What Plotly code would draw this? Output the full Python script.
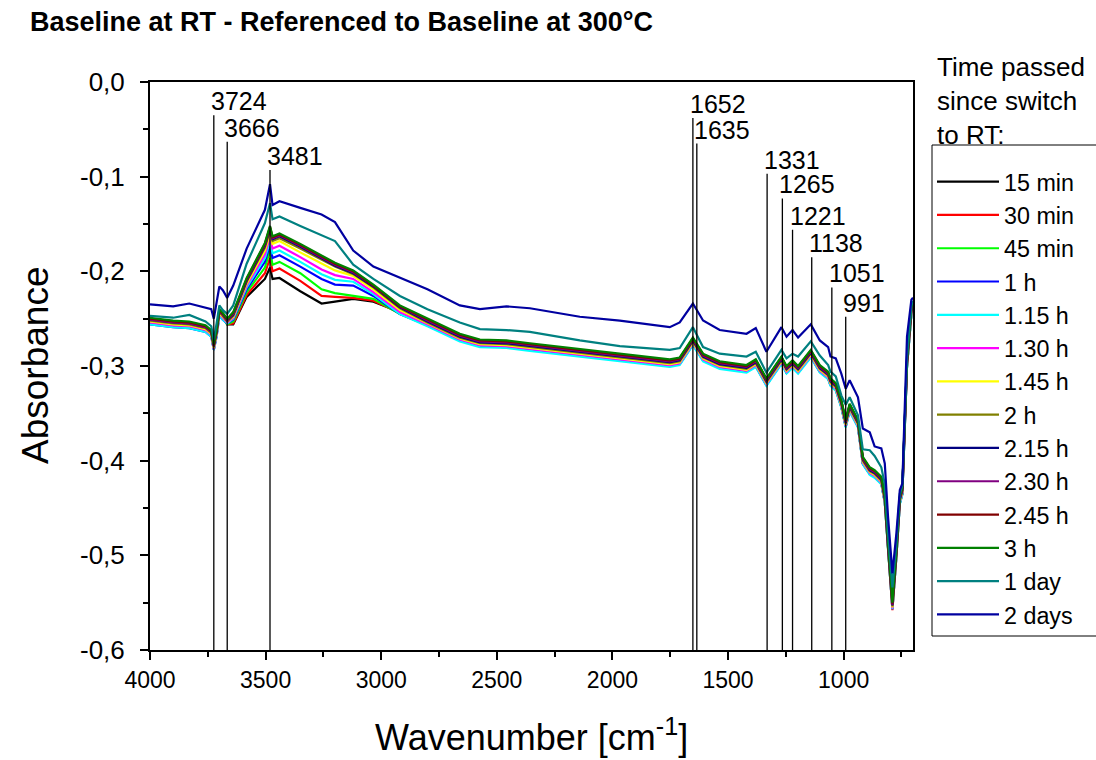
import plotly.graph_objects as go

# ---------------- data ----------------
wavenumber = [4000, 3900, 3830, 3760, 3735, 3724, 3712, 3700, 3685, 3666,
              3640, 3582, 3503, 3481, 3470, 3440, 3350, 3258, 3200, 3121,
              3034, 2919, 2800, 2660, 2573, 2458, 2357, 2141, 1968, 1752,
              1709, 1652, 1608, 1536, 1420, 1380, 1334, 1269, 1247, 1221,
              1197, 1142, 1103, 1067, 1057, 1034, 1010, 991, 974, 938,
              917, 887, 866, 837, 822, 808, 789, 772, 757, 746,
              726, 707, 700]

series_names = ["15 min", "30 min", "45 min", "1 h", "1.15 h", "1.30 h", "1.45 h",
                "2 h", "2.15 h", "2.30 h", "2.45 h", "3 h", "1 day", "2 days"]

series_colors = ["#000000", "#FF0000", "#00FF00", "#0000FF", "#00FFFF", "#FF00FF", "#FFFF00",
                 "#808000", "#000080", "#800080", "#800000", "#008000", "#008080", "#0000A0"]

abs_15min = [-0.252, -0.255, -0.256, -0.260, -0.265, -0.281, -0.265, -0.243, -0.247, -0.256,
             -0.256, -0.227, -0.208, -0.196, -0.208, -0.207, -0.221, -0.234, -0.232, -0.229,
             -0.232, -0.243, -0.251, -0.267, -0.273, -0.274, -0.277, -0.283, -0.288, -0.294,
             -0.292, -0.271, -0.288, -0.296, -0.300, -0.294, -0.314, -0.291, -0.301, -0.295,
             -0.301, -0.284, -0.300, -0.307, -0.314, -0.319, -0.337, -0.358, -0.341, -0.358,
             -0.397, -0.408, -0.411, -0.418, -0.438, -0.488, -0.551, -0.496, -0.439, -0.429,
             -0.295, -0.239, -0.233]
abs_30min = [-0.254, -0.257, -0.258, -0.262, -0.267, -0.282, -0.267, -0.245, -0.249, -0.256,
             -0.255, -0.225, -0.202, -0.186, -0.200, -0.197, -0.210, -0.226, -0.227, -0.228,
             -0.231, -0.244, -0.257, -0.273, -0.279, -0.280, -0.283, -0.289, -0.294, -0.300,
             -0.298, -0.277, -0.294, -0.302, -0.306, -0.300, -0.320, -0.297, -0.307, -0.301,
             -0.307, -0.290, -0.306, -0.313, -0.320, -0.325, -0.343, -0.364, -0.347, -0.364,
             -0.403, -0.414, -0.417, -0.424, -0.444, -0.494, -0.558, -0.502, -0.445, -0.435,
             -0.301, -0.245, -0.239]
abs_45min = [-0.254, -0.257, -0.258, -0.262, -0.267, -0.282, -0.267, -0.245, -0.249, -0.256,
             -0.253, -0.222, -0.196, -0.178, -0.193, -0.190, -0.202, -0.219, -0.223, -0.226,
             -0.229, -0.245, -0.257, -0.273, -0.279, -0.280, -0.283, -0.289, -0.294, -0.300,
             -0.298, -0.277, -0.294, -0.302, -0.306, -0.300, -0.320, -0.297, -0.307, -0.301,
             -0.307, -0.290, -0.306, -0.313, -0.320, -0.325, -0.343, -0.364, -0.347, -0.364,
             -0.403, -0.414, -0.417, -0.424, -0.444, -0.494, -0.556, -0.502, -0.445, -0.435,
             -0.301, -0.245, -0.239]
abs_1h = [-0.256, -0.259, -0.260, -0.264, -0.269, -0.283, -0.269, -0.247, -0.251, -0.255,
          -0.251, -0.219, -0.190, -0.172, -0.186, -0.183, -0.195, -0.208, -0.214, -0.215,
          -0.226, -0.245, -0.257, -0.273, -0.279, -0.280, -0.283, -0.289, -0.294, -0.300,
          -0.298, -0.277, -0.294, -0.302, -0.306, -0.300, -0.320, -0.297, -0.307, -0.301,
          -0.307, -0.290, -0.306, -0.313, -0.320, -0.325, -0.343, -0.364, -0.347, -0.364,
          -0.403, -0.414, -0.417, -0.424, -0.444, -0.494, -0.557, -0.502, -0.445, -0.435,
          -0.301, -0.245, -0.239]
abs_1h15 = [-0.256, -0.259, -0.260, -0.264, -0.269, -0.283, -0.269, -0.247, -0.251, -0.255,
            -0.250, -0.217, -0.186, -0.168, -0.181, -0.178, -0.190, -0.203, -0.209, -0.211,
            -0.224, -0.245, -0.258, -0.274, -0.280, -0.281, -0.284, -0.290, -0.295, -0.301,
            -0.299, -0.278, -0.295, -0.303, -0.307, -0.301, -0.321, -0.298, -0.308, -0.302,
            -0.308, -0.291, -0.307, -0.314, -0.321, -0.326, -0.344, -0.365, -0.348, -0.365,
            -0.404, -0.415, -0.418, -0.425, -0.445, -0.495, -0.557, -0.503, -0.446, -0.436,
            -0.302, -0.246, -0.240]
abs_1h30 = [-0.254, -0.257, -0.258, -0.262, -0.267, -0.282, -0.267, -0.245, -0.249, -0.254,
            -0.249, -0.215, -0.182, -0.164, -0.176, -0.173, -0.185, -0.198, -0.204, -0.208,
            -0.222, -0.243, -0.256, -0.272, -0.278, -0.279, -0.282, -0.288, -0.293, -0.299,
            -0.297, -0.276, -0.293, -0.301, -0.305, -0.299, -0.319, -0.296, -0.306, -0.300,
            -0.306, -0.289, -0.305, -0.312, -0.319, -0.324, -0.342, -0.363, -0.346, -0.363,
            -0.402, -0.413, -0.416, -0.423, -0.443, -0.493, -0.556, -0.501, -0.444, -0.434,
            -0.300, -0.244, -0.238]
abs_1h45 = [-0.253, -0.256, -0.257, -0.261, -0.266, -0.281, -0.266, -0.244, -0.248, -0.253,
            -0.248, -0.213, -0.178, -0.160, -0.171, -0.168, -0.180, -0.192, -0.199, -0.205,
            -0.219, -0.241, -0.255, -0.271, -0.277, -0.278, -0.281, -0.287, -0.292, -0.298,
            -0.296, -0.275, -0.292, -0.300, -0.304, -0.298, -0.318, -0.295, -0.305, -0.299,
            -0.305, -0.288, -0.304, -0.311, -0.318, -0.323, -0.341, -0.362, -0.345, -0.362,
            -0.401, -0.412, -0.415, -0.422, -0.442, -0.492, -0.555, -0.500, -0.443, -0.433,
            -0.299, -0.243, -0.237]
abs_2h = [-0.252, -0.255, -0.256, -0.260, -0.265, -0.280, -0.265, -0.243, -0.247, -0.253,
          -0.247, -0.211, -0.175, -0.157, -0.168, -0.165, -0.176, -0.188, -0.195, -0.203,
          -0.217, -0.239, -0.254, -0.270, -0.276, -0.277, -0.280, -0.286, -0.291, -0.297,
          -0.295, -0.274, -0.291, -0.299, -0.303, -0.297, -0.317, -0.294, -0.304, -0.298,
          -0.304, -0.287, -0.303, -0.310, -0.317, -0.322, -0.340, -0.361, -0.344, -0.361,
          -0.400, -0.411, -0.414, -0.421, -0.441, -0.491, -0.554, -0.499, -0.442, -0.432,
          -0.298, -0.242, -0.236]
abs_2h15 = [-0.251, -0.254, -0.255, -0.259, -0.264, -0.279, -0.264, -0.242, -0.246, -0.252,
            -0.246, -0.210, -0.173, -0.155, -0.166, -0.163, -0.174, -0.186, -0.194, -0.202,
            -0.216, -0.238, -0.253, -0.269, -0.275, -0.276, -0.279, -0.285, -0.290, -0.296,
            -0.294, -0.273, -0.290, -0.298, -0.302, -0.296, -0.316, -0.293, -0.303, -0.297,
            -0.303, -0.286, -0.302, -0.309, -0.316, -0.321, -0.339, -0.360, -0.343, -0.360,
            -0.399, -0.410, -0.413, -0.420, -0.440, -0.490, -0.553, -0.498, -0.441, -0.431,
            -0.297, -0.241, -0.235]
abs_2h30 = [-0.251, -0.254, -0.255, -0.259, -0.264, -0.279, -0.264, -0.242, -0.246, -0.252,
            -0.245, -0.209, -0.172, -0.154, -0.165, -0.162, -0.173, -0.185, -0.193, -0.201,
            -0.215, -0.237, -0.252, -0.268, -0.274, -0.275, -0.278, -0.284, -0.289, -0.295,
            -0.293, -0.272, -0.289, -0.297, -0.301, -0.295, -0.315, -0.292, -0.302, -0.296,
            -0.302, -0.285, -0.301, -0.308, -0.315, -0.320, -0.338, -0.359, -0.342, -0.359,
            -0.398, -0.409, -0.412, -0.419, -0.439, -0.489, -0.552, -0.497, -0.440, -0.430,
            -0.296, -0.240, -0.234]
abs_2h45 = [-0.250, -0.253, -0.254, -0.258, -0.263, -0.278, -0.263, -0.241, -0.245, -0.251,
            -0.244, -0.208, -0.171, -0.153, -0.164, -0.161, -0.172, -0.184, -0.192, -0.200,
            -0.215, -0.237, -0.251, -0.267, -0.273, -0.274, -0.277, -0.283, -0.288, -0.294,
            -0.292, -0.271, -0.288, -0.296, -0.300, -0.294, -0.314, -0.291, -0.301, -0.295,
            -0.301, -0.284, -0.300, -0.307, -0.314, -0.319, -0.337, -0.358, -0.341, -0.358,
            -0.397, -0.408, -0.411, -0.418, -0.438, -0.488, -0.551, -0.496, -0.439, -0.429,
            -0.295, -0.239, -0.233]
abs_3h = [-0.249, -0.252, -0.253, -0.257, -0.262, -0.277, -0.262, -0.240, -0.244, -0.250,
          -0.243, -0.207, -0.170, -0.152, -0.163, -0.160, -0.171, -0.183, -0.191, -0.199,
          -0.214, -0.236, -0.250, -0.266, -0.272, -0.273, -0.276, -0.282, -0.287, -0.293,
          -0.291, -0.270, -0.287, -0.295, -0.299, -0.293, -0.313, -0.290, -0.300, -0.294,
          -0.300, -0.283, -0.299, -0.306, -0.313, -0.318, -0.336, -0.357, -0.340, -0.357,
          -0.396, -0.407, -0.410, -0.417, -0.437, -0.487, -0.550, -0.495, -0.438, -0.428,
          -0.294, -0.238, -0.232]
abs_1day = [-0.247, -0.249, -0.246, -0.253, -0.258, -0.272, -0.255, -0.236, -0.241, -0.245,
            -0.236, -0.192, -0.149, -0.128, -0.145, -0.142, -0.152, -0.162, -0.168, -0.193,
            -0.208, -0.226, -0.240, -0.254, -0.261, -0.262, -0.264, -0.273, -0.279, -0.283,
            -0.281, -0.259, -0.280, -0.287, -0.290, -0.285, -0.307, -0.283, -0.292, -0.287,
            -0.290, -0.274, -0.289, -0.299, -0.306, -0.311, -0.331, -0.341, -0.333, -0.352,
            -0.388, -0.389, -0.395, -0.407, -0.425, -0.477, -0.534, -0.487, -0.435, -0.426,
            -0.290, -0.236, -0.231]
abs_2days = [-0.235, -0.237, -0.234, -0.238, -0.240, -0.250, -0.232, -0.216, -0.220, -0.228,
             -0.215, -0.176, -0.135, -0.108, -0.130, -0.126, -0.133, -0.140, -0.148, -0.178,
             -0.195, -0.207, -0.219, -0.236, -0.240, -0.237, -0.239, -0.248, -0.252, -0.259,
             -0.254, -0.234, -0.252, -0.262, -0.266, -0.260, -0.285, -0.259, -0.269, -0.262,
             -0.270, -0.256, -0.273, -0.280, -0.290, -0.292, -0.308, -0.324, -0.315, -0.333,
             -0.366, -0.370, -0.385, -0.387, -0.403, -0.459, -0.519, -0.477, -0.431, -0.424,
             -0.269, -0.230, -0.228]

series_values = [abs_15min, abs_30min, abs_45min, abs_1h, abs_1h15, abs_1h30, abs_1h45,
                 abs_2h, abs_2h15, abs_2h30, abs_2h45, abs_3h, abs_1day, abs_2days]

# peak markers: position and top of the drop line
peak_positions = [3724, 3666, 3481, 1652, 1635, 1331, 1265, 1221, 1138, 1051, 991]
peak_line_tops = [-0.035, -0.063, -0.093, -0.038, -0.065, -0.097, -0.123, -0.156, -0.185, -0.217, -0.248]
peak_labels = ["3724", "3666", "3481", "1652", "1635", "1331", "1265", "1221", "1138", "1051", "991"]

x_tick_values = [4000, 3500, 3000, 2500, 2000, 1500, 1000]
x_tick_labels = ["4000", "3500", "3000", "2500", "2000", "1500", "1000"]
x_minor_values = [3750, 3250, 2750, 2250, 1750, 1250, 750]
y_tick_values = [0.0, -0.1, -0.2, -0.3, -0.4, -0.5, -0.6]
y_tick_labels = ["0,0", "-0,1", "-0,2", "-0,3", "-0,4", "-0,5", "-0,6"]
y_minor_values = [-0.05, -0.15, -0.25, -0.35, -0.45, -0.55]

# ---------------- figure ----------------
FONT = "Liberation Sans, Arial, sans-serif"
fig = go.Figure()

for i, (name, vals, col) in enumerate(zip(series_names, series_values, series_colors)):
    fig.add_trace(go.Scatter(
        x=wavenumber, y=vals, mode="lines", name=name,
        line=dict(color=col, width=2.2),
    ))

for xp, yt, lab in zip(peak_positions, peak_line_tops, peak_labels):
    fig.add_shape(type="line", xref="x", yref="y", x0=xp, x1=xp, y0=-0.6, y1=yt,
                  line=dict(color="black", width=1.3), layer="above")
    fig.add_annotation(x=xp, y=yt, xref="x", yref="y", text=lab, showarrow=False,
                       xanchor="left", yanchor="bottom", xshift=-5, yshift=-2,
                       font=dict(family=FONT, size=25, color="black"))

axis_common = dict(showline=True, linecolor="black", linewidth=2, mirror=True,
                   ticks="outside", ticklen=8, tickwidth=2, tickcolor="black",
                   showgrid=False, zeroline=False)

fig.update_xaxes(range=[4000, 700], autorange=False,
                 tickmode="array", tickvals=x_tick_values, ticktext=x_tick_labels,
                 tickfont=dict(family=FONT, size=23, color="black"),
                 minor=dict(tickmode="array", tickvals=x_minor_values, ticks="outside",
                            ticklen=5, tickwidth=2, tickcolor="black", showgrid=False),
                 **axis_common)
fig.update_yaxes(range=[-0.6, 0.0], autorange=False,
                 tickmode="array", tickvals=y_tick_values, ticktext=y_tick_labels,
                 tickfont=dict(family=FONT, size=26, color="black"),
                 ticklabelstandoff=10,
                 minor=dict(tickmode="array", tickvals=y_minor_values, ticks="outside",
                            ticklen=5, tickwidth=2, tickcolor="black", showgrid=False),
                 **axis_common)

# axis titles
fig.add_annotation(xref="paper", yref="paper", x=(35 - 150) / 763, y=0.5,
                   text="Absorbance", textangle=-90, showarrow=False,
                   xanchor="center", yanchor="middle",
                   font=dict(family=FONT, size=37, color="black"))
fig.add_annotation(xref="paper", yref="paper", x=0.5, y=(650 - 735) / 568,
                   text="Wavenumber [cm<sup>-1</sup>]", showarrow=False,
                   xanchor="center", yanchor="middle",
                   font=dict(family=FONT, size=36, color="black"))
# legend heading
fig.add_annotation(xref="paper", yref="paper", x=(935 - 150) / 763, y=(650 - 50) / 568,
                   text="Time passed<br>since switch<br>to RT:", showarrow=False,
                   xanchor="left", yanchor="top", align="left",
                   font=dict(family=FONT, size=26, color="black"))
# legend frame (open on the right, as in the reference)
fig.add_shape(type="rect", xref="paper", yref="paper",
              x0=(932 - 150) / 763, x1=(1110 - 150) / 763,
              y0=(650 - 636) / 568, y1=(650 - 145) / 568,
              line=dict(color="black", width=1), fillcolor="rgba(0,0,0,0)", layer="above")

fig.update_layout(
    width=1096, height=760,
    margin=dict(l=150, r=183, t=82, b=110, autoexpand=False),
    paper_bgcolor="white", plot_bgcolor="white",
    title=dict(text="<b>Baseline at RT - Referenced to Baseline at 300°C</b>",
               xref="container", yref="container", x=30 / 1096, y=1 - 22 / 760,
               xanchor="left", yanchor="middle",
               font=dict(family=FONT, size=27, color="black")),
    showlegend=True,
    legend=dict(x=(932 - 150) / 763, y=(650 - 160) / 568, xanchor="left", yanchor="top",
                borderwidth=0, bgcolor="rgba(0,0,0,0)",
                font=dict(family=FONT, size=23.3, color="black"),
                tracegroupgap=0, itemwidth=62),
)

fig.write_html("out.html")
